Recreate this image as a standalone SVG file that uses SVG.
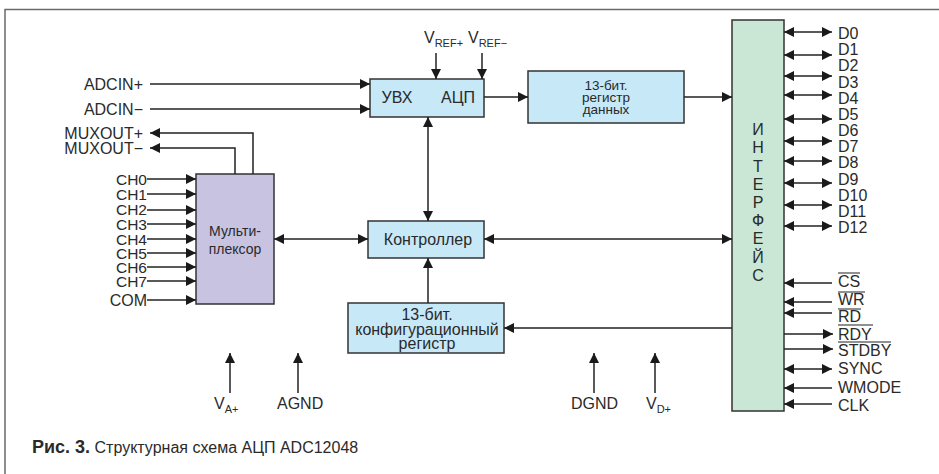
<svg xmlns="http://www.w3.org/2000/svg" width="939" height="474" viewBox="0 0 939 474">
<defs>
<style>
text{font-family:"Liberation Sans","DejaVu Sans",sans-serif;fill:#2a2a2a;font-size:16px}
.box{stroke:#333;stroke-width:1.5}
.blue{fill:#c6e8f7}
.mux{fill:#c7c3e1}
.ifc{fill:#c9e7d4}
.in{font-size:14px}
.sm{font-size:13.5px}
.ch{font-size:15.5px}
.c{text-anchor:middle}
.e{text-anchor:end}
.sub{font-size:11px}
#conn path{fill:none;stroke:#222;stroke-width:1.5}
.a{marker-end:url(#ah)}
.b{marker-start:url(#ah);marker-end:url(#ah)}
.ol{stroke:#222;stroke-width:1.2}
</style>
<marker id="ah" viewBox="0 0 10 10" refX="10" refY="5" markerWidth="10" markerHeight="10" markerUnits="userSpaceOnUse" orient="auto-start-reverse"><path d="M0,0 L10,5 L0,10 z" fill="#1a1a1a"/></marker>
</defs>
<rect width="939" height="474" fill="#fff"/>
<path d="M5,474 V9.5 H939" fill="none" stroke="#6a6a6a" stroke-width="1.5"/>

<g id="shadc">
<rect class="box blue" x="370" y="79" width="114" height="38"/>
<text x="397" y="103" class="c" font-size="15">УВХ</text>
<text x="458" y="103" class="c" font-size="15">АЦП</text>
</g>
<g id="datareg">
<rect class="box blue" x="528" y="71" width="156" height="52"/>
<text x="606" y="90" class="c sm">13-бит.</text>
<text x="606" y="102" class="c sm">регистр</text>
<text x="606" y="114" class="c sm">данных</text>
</g>
<g id="mux">
<rect class="box mux" x="196" y="174" width="78" height="130"/>
<text x="235" y="236" class="c in">Мульти-</text>
<text x="235" y="254" class="c in">плексор</text>
</g>
<g id="ctrl">
<rect class="box blue" x="368" y="221" width="116" height="37"/>
<text x="428" y="245" class="c" font-size="15.5">Контроллер</text>
</g>
<g id="cfgreg">
<rect class="box blue" x="348" y="303" width="156" height="50"/>
<text x="427" y="320" class="c" font-size="15">13-бит.</text>
<text x="427" y="335" class="c" font-size="15">конфигурационный</text>
<text x="427" y="349" class="c" font-size="15">регистр</text>
</g>
<g id="iface">
<rect class="box ifc" x="732" y="20" width="52" height="391"/>
<text x="758" y="135" class="c">И</text>
<text x="758" y="153" class="c">Н</text>
<text x="758" y="172" class="c">Т</text>
<text x="758" y="190" class="c">Е</text>
<text x="758" y="208" class="c">Р</text>
<text x="758" y="226" class="c">Ф</text>
<text x="758" y="244" class="c">Е</text>
<text x="758" y="263" class="c">Й</text>
<text x="758" y="281" class="c">С</text>
</g>

<g id="conn">
<path class="a" d="M150,84 H370"/>
<path class="a" d="M150,109 H370"/>
<path class="a" d="M253,174 V133 H150"/>
<path class="a" d="M235,174 V148 H150"/>
<path class="a" d="M147,179 H196"/>
<path class="a" d="M147,194 H196"/>
<path class="a" d="M147,210 H196"/>
<path class="a" d="M147,224 H196"/>
<path class="a" d="M147,239 H196"/>
<path class="a" d="M147,253 H196"/>
<path class="a" d="M147,267 H196"/>
<path class="a" d="M147,281 H196"/>
<path class="a" d="M147,300 H196"/>
<path class="b" d="M274,239 H368"/>
<path class="a" d="M436,53 V79"/>
<path class="a" d="M482,53 V79"/>
<path class="b" d="M428,117 V221"/>
<path class="a" d="M484,97 H528"/>
<path class="a" d="M684,97 H732"/>
<path class="b" d="M484,239 H732"/>
<path class="a" d="M428,303 V258"/>
<path class="a" d="M732,328 H504"/>
<path class="a" d="M230,393 V353"/>
<path class="a" d="M298,393 V353"/>
<path class="a" d="M594,393 V353"/>
<path class="a" d="M655,393 V353"/>
<path class="b" d="M784,32 H832"/>
<path class="b" d="M784,55 H832"/>
<path class="b" d="M784,76 H832"/>
<path class="b" d="M784,95 H832"/>
<path class="b" d="M784,119 H832"/>
<path class="b" d="M784,141 H832"/>
<path class="b" d="M784,161 H832"/>
<path class="b" d="M784,183 H832"/>
<path class="b" d="M784,205 H832"/>
<path class="b" d="M784,226 H832"/>
<path class="a" d="M832,283 H784"/>
<path class="a" d="M832,302 H784"/>
<path class="a" d="M832,313 H784"/>
<path class="a" d="M784,334 H833"/>
<path class="a" d="M784,349 H833"/>
<path class="b" d="M784,369 H832"/>
<path class="a" d="M832,388 H784"/>
<path class="a" d="M832,404 H784"/>
</g>

<g id="labels">
<text x="143" y="90" class="e">ADCIN+</text>
<text x="143" y="115" class="e">ADCIN−</text>
<text x="143" y="139" class="e">MUXOUT+</text>
<text x="143" y="154" class="e">MUXOUT−</text>
<text x="147" y="184.5" class="e ch">CH0</text>
<text x="147" y="199.5" class="e ch">CH1</text>
<text x="147" y="215" class="e ch">CH2</text>
<text x="147" y="229.5" class="e ch">CH3</text>
<text x="147" y="244.5" class="e ch">CH4</text>
<text x="147" y="258.5" class="e ch">CH5</text>
<text x="147" y="272.5" class="e ch">CH6</text>
<text x="147" y="286.5" class="e ch">CH7</text>
<text x="147" y="305.5" class="e">COM</text>
<text x="424" y="43">V<tspan class="sub" dy="4">REF+</tspan></text>
<text x="468" y="43">V<tspan class="sub" dy="4">REF−</tspan></text>
<text x="214" y="409">V<tspan class="sub" dy="4">A+</tspan></text>
<text x="277" y="409">AGND</text>
<text x="571" y="409">DGND</text>
<text x="646" y="409">V<tspan class="sub" dy="4">D+</tspan></text>
<text x="838" y="39">D0</text>
<text x="838" y="55">D1</text>
<text x="838" y="71">D2</text>
<text x="838" y="87.5">D3</text>
<text x="838" y="103.5">D4</text>
<text x="838" y="120">D5</text>
<text x="838" y="136">D6</text>
<text x="838" y="152">D7</text>
<text x="838" y="168">D8</text>
<text x="838" y="184.5">D9</text>
<text x="838" y="200.5">D10</text>
<text x="838" y="217">D11</text>
<text x="838" y="233">D12</text>
<text x="838" y="287">CS</text>
<text x="838" y="305">WR</text>
<text x="838" y="322">RD</text>
<text x="838" y="340">RDY</text>
<text x="838" y="356">STDBY</text>
<text x="838" y="374">SYNC</text>
<text x="838" y="393">WMODE</text>
<text x="838" y="411">CLK</text>
<path class="ol" d="M838,273 H860 M838,292 H865 M838,309 H861 M838,325 H873 M838,342 H891"/>
<text x="32" y="453"><tspan font-weight="bold" font-size="18">Рис. 3.</tspan> Структурная схема АЦП ADC12048</text>
</g>
</svg>
